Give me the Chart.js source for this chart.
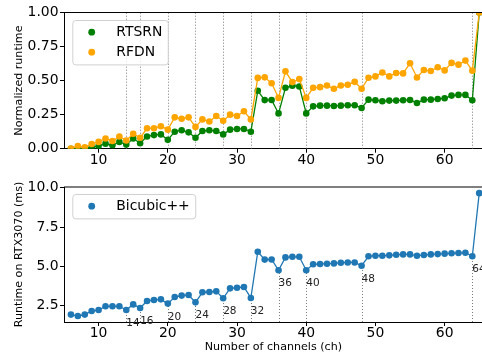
<!DOCTYPE html>
<html><head><meta charset="utf-8">
<script src="https://cdn.jsdelivr.net/npm/chart.js@4.4.1/dist/chart.umd.min.js"></script>
<style>
html,body{margin:0;padding:0;background:#fff;overflow:hidden;width:482px;height:356px;position:relative;}
canvas{position:absolute;left:0;}
#c1{top:0}
#c2{top:175px}
</style></head><body>
<canvas id="c1" width="490" height="175"></canvas>
<canvas id="c2" width="490" height="181"></canvas>
<script>
// ---------------- data ----------------
const CHANNELS = [6,7,8,9,10,11,12,13,14,15,16,17,18,19,20,21,22,23,24,25,26,27,28,29,30,31,32,33,34,35,36,37,38,39,40,41,42,43,44,45,46,47,48,49,50,51,52,53,54,55,56,57,58,59,60,61,62,63,64,65];
const RTSRN = [0.0,0.0,0.003,0.01,0.02,0.037,0.025,0.05,0.03,0.075,0.04,0.09,0.10,0.105,0.065,0.125,0.135,0.12,0.08,0.13,0.135,0.13,0.105,0.14,0.145,0.145,0.125,0.425,0.357,0.358,0.259,0.447,0.462,0.457,0.259,0.311,0.316,0.316,0.314,0.316,0.319,0.319,0.299,0.36,0.356,0.348,0.353,0.353,0.356,0.358,0.336,0.36,0.36,0.365,0.37,0.39,0.395,0.395,0.356,1.0];
const RFDN = [0.002,0.02,0.01,0.035,0.05,0.075,0.057,0.09,0.06,0.11,0.08,0.15,0.15,0.165,0.14,0.23,0.22,0.23,0.16,0.215,0.20,0.24,0.205,0.25,0.24,0.275,0.215,0.52,0.524,0.48,0.373,0.568,0.489,0.511,0.373,0.447,0.452,0.464,0.44,0.464,0.469,0.491,0.44,0.521,0.531,0.56,0.531,0.556,0.553,0.627,0.523,0.578,0.57,0.598,0.575,0.63,0.617,0.647,0.573,1.0];
const BICUBIC = [1.93,1.84,1.93,2.16,2.22,2.46,2.46,2.46,2.22,2.58,2.35,2.80,2.86,2.90,2.63,3.05,3.14,3.18,2.71,3.35,3.37,3.41,2.97,3.60,3.64,3.69,2.99,5.93,5.43,5.44,4.75,5.57,5.61,5.61,4.75,5.13,5.15,5.17,5.19,5.23,5.25,5.25,5.04,5.64,5.68,5.68,5.70,5.74,5.76,5.76,5.68,5.72,5.76,5.78,5.81,5.83,5.85,5.87,5.64,9.66];
const MARKED_CHANNELS = [14,16,20,24,28,32,36,40,48,64];
const X_TICKS = [10,20,30,40,50,60];
const TOP_Y_TICKS = [0,0.25,0.5,0.75,1.0];
const BOTTOM_Y_TICKS = [2.5,5.0,7.5,10.0];
const X_LIMITS = [5,65.5];
const TOP_Y_LIMITS = [0,1];
const BOTTOM_Y_LIMITS = [1.46,10.05];

// ---------------- style ----------------
const FONT = "'DejaVu Sans', sans-serif";
const GREEN = '#008000', ORANGE = '#FFA500', BLUE = '#1f77b4';
const pts = arr => CHANNELS.map((c,i)=>({x:c, y:arr[i]}));

const framePlugin = {
  id:'frame',
  afterDatasetsDraw(chart){
    const {ctx, chartArea:a} = chart;
    ctx.save();
    ctx.strokeStyle = '#000'; ctx.lineWidth = 1;
    ctx.beginPath();
    ctx.moveTo(a.left, a.top); ctx.lineTo(a.right, a.top); ctx.lineTo(a.right, a.bottom);
    ctx.stroke();
    ctx.restore();
  }
};

const markLines = {
  id:'markLines',
  beforeDatasetsDraw(chart, args, opts){
    const {ctx, chartArea:a, scales:{x, y}} = chart;
    ctx.save();
    ctx.strokeStyle = 'rgba(110,110,110,0.9)';
    ctx.lineWidth = 1;
    ctx.setLineDash([1,2]);
    const data = chart.data.datasets[0].data;
    MARKED_CHANNELS.forEach(c=>{
      const px = Math.round(x.getPixelForValue(c)) + 0.5;
      let top = a.top;
      if (opts.toPoint) {
        const p = data.find(d=>d.x===c);
        top = y.getPixelForValue(p.y);
      }
      ctx.beginPath(); ctx.moveTo(px, a.bottom); ctx.lineTo(px, top); ctx.stroke();
    });
    ctx.restore();
  },
  afterDraw(chart, args, opts){
    if (!opts.labels) return;
    const {ctx, scales:{x, y}} = chart;
    const data = chart.data.datasets[0].data;
    ctx.save();
    ctx.fillStyle = '#222';
    ctx.font = `10.5px ${FONT}`;
    ctx.textAlign = 'left';
    ctx.textBaseline = 'alphabetic';
    MARKED_CHANNELS.forEach(c=>{
      const p = data.find(d=>d.x===c);
      const px = x.getPixelForValue(c);
      const py = y.getPixelForValue(p.y);
      ctx.fillText(String(c), px, py + 16);
    });
    ctx.restore();
  }
};

const boxLegend = {
  id:'boxLegend',
  afterDraw(chart, args, opts){
    const {ctx, chartArea:a} = chart;
    const ds = chart.data.datasets.filter(d=>d.label);
    ctx.save();
    ctx.font = `13.9px ${FONT}`;
    const tw = Math.max(...ds.map(d=>ctx.measureText(d.label).width));
    const x0 = a.left + 8.3, y0 = a.top + opts.offsetY;
    const w = 45 + tw + 4.5;
    const h = 24.4 + (ds.length-1)*20;
    ctx.beginPath();
    ctx.roundRect(x0+0.5, y0+0.5, w, h, 3);
    ctx.fillStyle = 'rgba(255,255,255,0.8)';
    ctx.fill();
    ctx.strokeStyle = '#d0d0d0'; ctx.lineWidth = 1;
    ctx.stroke();
    ds.forEach((d,i)=>{
      const cy = y0 + 12.2 + i*20;
      ctx.beginPath();
      ctx.arc(x0 + 19.4, cy, 3.4, 0, Math.PI*2);
      ctx.fillStyle = d.borderColor; ctx.fill();
      ctx.fillStyle = '#000';
      ctx.textAlign = 'left'; ctx.textBaseline = 'middle';
      ctx.fillText(d.label, x0 + 44, cy + 0.5);
    });
    ctx.restore();
  }
};

function xScale(height, withTitle){
  return {
    type:'linear', min:X_LIMITS[0], max:X_LIMITS[1],
    afterBuildTicks: s=>{ s.ticks = X_TICKS.map(v=>({value:v})); },
    afterFit: s=>{ s.height = height; },
    grid:{display:true, drawOnChartArea:false, tickLength:4, color:'#000', tickColor:'#000', tickWidth:1},
    border:{display:true, color:'#000', width:1},
    ticks:{font:{family:FONT, size:13.9, lineHeight:1}, color:'#000', padding:0.5, maxRotation:0, autoSkip:false},
    title: withTitle ? {display:true, text:'Number of channels (ch)', color:'#000', font:{family:FONT, size:11.1}, padding:{top:0, bottom:2.1}} : {display:false}
  };
}
function yScale(lim, ticks, fmt, title){
  return {
    min:lim[0], max:lim[1],
    afterBuildTicks: s=>{ s.ticks = ticks.map(v=>({value:v})); },
    afterFit: s=>{ s.width = 64; },
    grid:{display:true, drawOnChartArea:false, tickLength:4, color:'#000', tickColor:'#000', tickWidth:1},
    border:{display:true, color:'#000', width:1},
    ticks:{font:{family:FONT, size:13.9}, color:'#000', padding:1.5, callback:v=>v.toFixed(fmt)},
    title:{display:true, text:title, color:'#000', font:{family:FONT, size:11.1}, padding:{top:12.8, bottom:0}}
  };
}
const common = {
  responsive:false, animation:false, devicePixelRatio:1,
  elements:{line:{borderWidth:1.3, tension:0}, point:{radius:3.3, hoverRadius:3.3, borderWidth:0}},
  events:[]
};

new Chart(document.getElementById('c1'), {
  type:'line',
  data:{datasets:[
    {label:'RTSRN', data:pts(RTSRN), borderColor:GREEN, backgroundColor:GREEN, pointBackgroundColor:GREEN, order:1, clip:0},
    {label:'RFDN', data:pts(RFDN), borderColor:ORANGE, backgroundColor:ORANGE, pointBackgroundColor:ORANGE, order:0, clip:0}
  ]},
  options:Object.assign({}, common, {
    layout:{padding:{left:0, top:12.5, right:7.3, bottom:0}},
    plugins:{legend:{display:false}, tooltip:{enabled:false}, markLines:{toPoint:false, labels:false}, boxLegend:{offsetY:7.5}},
    scales:{x:xScale(26.3,false), y:yScale(TOP_Y_LIMITS, TOP_Y_TICKS, 2, 'Normalized runtime')}
  }),
  plugins:[markLines, framePlugin, boxLegend]
});

new Chart(document.getElementById('c2'), {
  type:'line',
  data:{datasets:[
    {label:'Bicubic++', data:pts(BICUBIC), borderColor:BLUE, backgroundColor:BLUE, pointBackgroundColor:BLUE, clip:0}
  ]},
  options:Object.assign({}, common, {
    layout:{padding:{left:0, top:12, right:7.3, bottom:0}},
    plugins:{legend:{display:false}, tooltip:{enabled:false}, markLines:{toPoint:true, labels:true}, boxLegend:{offsetY:7}},
    scales:{x:xScale(34,true), y:yScale(BOTTOM_Y_LIMITS, BOTTOM_Y_TICKS, 1, 'Runtime on RTX3070 (ms)')}
  }),
  plugins:[markLines, framePlugin, boxLegend]
});
</script>
</body></html>
